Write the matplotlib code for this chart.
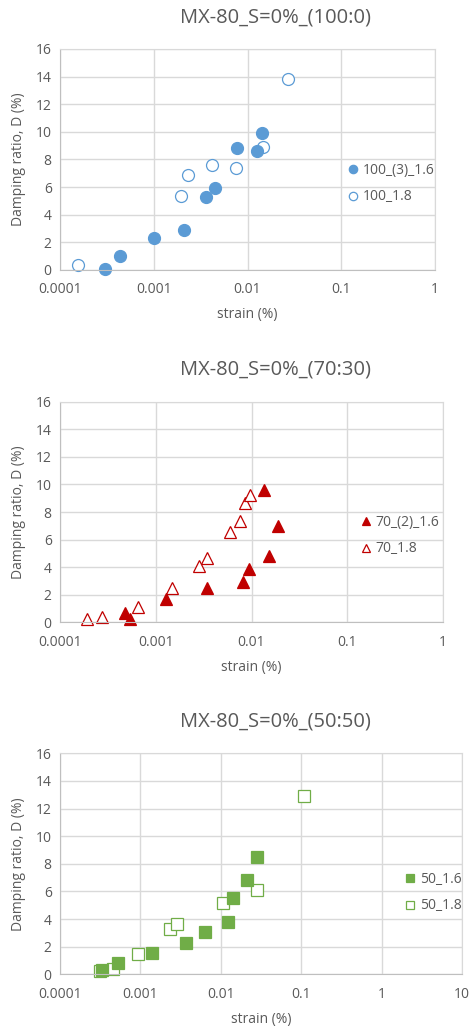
import matplotlib.pyplot as plt

plt.rcParams['font.family'] = ['Open Sans', 'DejaVu Sans']

# ================== DATA ==================
titles = ['MX-80_S=0%_(100:0)', 'MX-80_S=0%_(70:30)', 'MX-80_S=0%_(50:50)']

# panel 1 (100:0)
p1_filled_label = '100_(3)_1.6'
p1_filled_x = [3.0e-4, 4.37e-4, 1.0e-3, 2.12e-3, 3.58e-3, 4.5e-3, 7.8e-3, 1.26e-2, 1.44e-2]
p1_filled_y = [0.10, 1.04, 2.30, 2.90, 5.31, 5.97, 8.82, 8.62, 9.90]
p1_open_label = '100_1.8'
p1_open_x = [1.57e-4, 1.95e-3, 2.30e-3, 4.22e-3, 7.6e-3, 1.48e-2, 2.68e-2]
p1_open_y = [0.34, 5.36, 6.90, 7.63, 7.37, 8.94, 13.80]

# panel 2 (70:30)
p2_filled_label = '70_(2)_1.6'
p2_filled_x = [4.79e-4, 5.43e-4, 1.27e-3, 3.41e-3, 8.24e-3, 9.5e-3, 1.35e-2, 1.52e-2, 1.91e-2]
p2_filled_y = [0.70, 0.24, 1.67, 2.46, 2.95, 3.84, 9.60, 4.83, 7.00]
p2_open_label = '70_1.8'
p2_open_x = [1.93e-4, 2.73e-4, 6.53e-4, 1.47e-3, 2.84e-3, 3.41e-3, 5.98e-3, 7.5e-3, 8.5e-3, 9.6e-3]
p2_open_y = [0.27, 0.41, 1.11, 2.49, 4.08, 4.66, 6.57, 7.32, 8.62, 9.25]

# panel 3 (50:50)
p3_filled_label = '50_1.6'
p3_filled_x = [3.37e-4, 5.32e-4, 1.38e-3, 3.66e-3, 6.35e-3, 1.24e-2, 1.41e-2, 2.14e-2, 2.79e-2]
p3_filled_y = [0.31, 0.84, 1.57, 2.24, 3.09, 3.81, 5.55, 6.83, 8.49]
p3_open_label = '50_1.8'
p3_open_x = [3.15e-4, 4.52e-4, 9.33e-4, 2.33e-3, 2.83e-3, 1.05e-2, 2.84e-2, 0.107]
p3_open_y = [0.22, 0.36, 1.47, 3.26, 3.62, 5.14, 6.10, 12.90]

xticks_4 = [1e-4, 1e-3, 1e-2, 1e-1, 1]
xticklabels_4 = ['0.0001', '0.001', '0.01', '0.1', '1']
xticks_5 = [1e-4, 1e-3, 1e-2, 1e-1, 1, 10]
xticklabels_5 = ['0.0001', '0.001', '0.01', '0.1', '1', '10']
yticks = [0, 2, 4, 6, 8, 10, 12, 14, 16]

# ================== STYLE ==================
TXT = '#595959'
GRID = '#D9D9D9'
BLUE = '#5B9BD5'
RED = '#C00000'
GREEN = '#70AD47'

W, H = 471, 1026
fig = plt.figure(figsize=(W / 100, H / 100), dpi=100)


def px_axes(left, right, top, bottom):
    return fig.add_axes([left / W, 1 - bottom / H, (right - left) / W, (bottom - top) / H])


panels = [
    dict(box=(60, 435, 49, 270), title_y=17, xt=xticks_4, xl=xticklabels_4,
         color=BLUE, marker='o', ms=8.6,
         fx=p1_filled_x, fy=p1_filled_y, fl=p1_filled_label,
         ox=p1_open_x, oy=p1_open_y, ol=p1_open_label, leg=(353, 183.5)),
    dict(box=(60, 443, 401.7, 622.3), title_y=369, xt=xticks_4, xl=xticklabels_4,
         color=RED, marker='^', ms=9.2,
         fx=p2_filled_x, fy=p2_filled_y, fl=p2_filled_label,
         ox=p2_open_x, oy=p2_open_y, ol=p2_open_label, leg=(366, 535.5)),
    dict(box=(60, 462, 753.3, 974.3), title_y=722, xt=xticks_5, xl=xticklabels_5,
         color=GREEN, marker='s', ms=8.6,
         fx=p3_filled_x, fy=p3_filled_y, fl=p3_filled_label,
         ox=p3_open_x, oy=p3_open_y, ol=p3_open_label, leg=(410, 892.5)),
]

for title, p in zip(titles, panels):
    l, r, t, b = p['box']
    ax = px_axes(l, r, t, b)
    ax.set_xscale('log')
    ax.set_xlim(p['xt'][0], p['xt'][-1])
    ax.set_ylim(0, 16)
    ax.set_xticks(p['xt'])
    ax.set_xticklabels(p['xl'])
    ax.minorticks_off()
    ax.set_yticks(yticks)
    ax.tick_params(length=0, labelsize=10, colors=TXT, pad=6)
    ax.tick_params(axis='x', pad=9)
    ax.grid(True, color=GRID, linewidth=1)
    ax.set_axisbelow(True)
    for s in ax.spines.values():
        s.set_color(GRID)
    ax.spines['bottom'].set_color('#BFBFBF')
    ax.spines['left'].set_color('#BFBFBF')

    ho, = ax.plot(p['ox'], p['oy'], ls='none', marker=p['marker'], ms=p['ms'],
                  mfc='white', mec=p['color'], mew=0.9, label=p['ol'], clip_on=False)
    hf, = ax.plot(p['fx'], p['fy'], ls='none', marker=p['marker'], ms=p['ms'],
                  mfc=p['color'], mec=p['color'], mew=0.9, label=p['fl'], clip_on=False)

    ax.set_xlabel('strain (%)', fontsize=10, color=TXT, labelpad=7)
    ax.set_ylabel('Damping ratio, D (%)', fontsize=10, color=TXT, labelpad=7)

    fig.text(275 / W, 1 - p['title_y'] / H, title, ha='center', va='center',
             fontsize=14.5, color=TXT)

    lx, ly = p['leg']
    leg = ax.legend([hf, ho], [p['fl'], p['ol']], loc='center left',
                    bbox_to_anchor=((lx - 7 - l) / (r - l), (b - ly) / (b - t)),
                    frameon=False, fontsize=10, handlelength=1.0, handletextpad=0.2,
                    labelspacing=0.85, borderpad=0, borderaxespad=0, markerscale=0.7)
    for txt in leg.get_texts():
        txt.set_color(TXT)

fig.savefig('out.png', dpi=100)
